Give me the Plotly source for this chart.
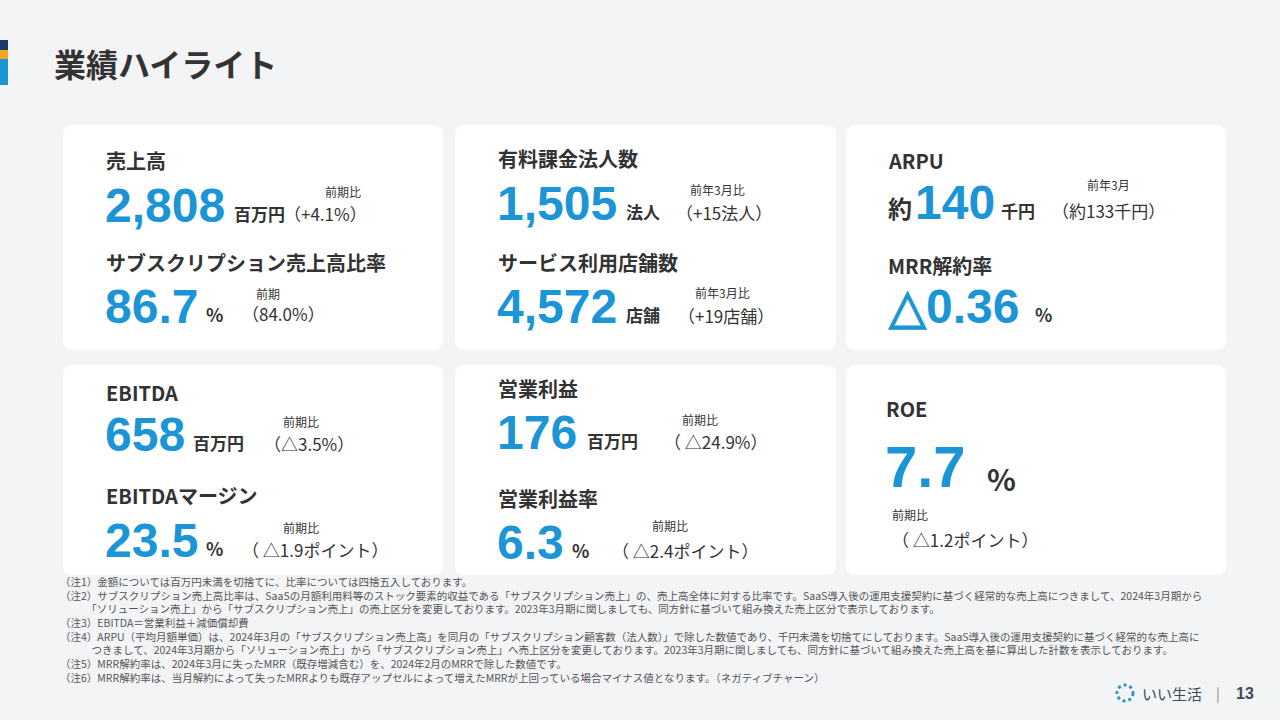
import plotly.graph_objects as go

title = "業績ハイライト"
labels = ["売上高", "サブスクリプション売上高比率", "有料課金法人数", "サービス利用店舗数", "ARPU", "MRR解約率",
          "EBITDA", "EBITDAマージン", "営業利益", "営業利益率", "ROE"]
prefixes = ["", "", "", "", "約", "△", "", "", "", "", ""]
values = ["2,808", "86.7", "1,505", "4,572", "140", "0.36", "658", "23.5", "176", "6.3", "7.7"]
units = ["百万円", "%", "法人", "店舗", "千円", "%", "百万円", "%", "百万円", "%", "%"]
cmp_labels = ["前期比", "前期", "前年3月比", "前年3月比", "前年3月", "", "前期比", "前期比", "前期比", "前期比", "前期比"]
cmp_values = ["（+4.1%）", "（84.0%）", "（+15法人）", "（+19店舗）", "（約133千円）", "", "（△3.5%）",
              "（ △1.9ポイント）", "（ △24.9%）", "（ △2.4ポイント）", "（ △1.2ポイント）"]
notes = [
    "（注1）金額については百万円未満を切捨てに、比率については四捨五入しております。",
    "（注2）サブスクリプション売上高比率は、SaaSの月額利用料等のストック要素的収益である「サブスクリプション売上」の、売上高全体に対する比率です。SaaS導入後の運用支援契約に基づく経常的な売上高につきまして、2024年3月期から",
    "　　　「ソリューション売上」から「サブスクリプション売上」の売上区分を変更しております。2023年3月期に関しましても、同方針に基づいて組み換えた売上区分で表示しております。",
    "（注3）EBITDA＝営業利益＋減価償却費",
    "（注4）ARPU（平均月額単価）は、2024年3月の「サブスクリプション売上高」を同月の「サブスクリプション顧客数（法人数）」で除した数値であり、千円未満を切捨てにしております。SaaS導入後の運用支援契約に基づく経常的な売上高に",
    "　　　つきまして、2024年3月期から「ソリューション売上」から「サブスクリプション売上」へ売上区分を変更しております。2023年3月期に関しましても、同方針に基づいて組み換えた売上高を基に算出した計数を表示しております。",
    "（注5）MRR解約率は、2024年3月に失ったMRR（既存増減含む）を、2024年2月のMRRで除した数値です。",
    "（注6）MRR解約率は、当月解約によって失ったMRRよりも既存アップセルによって増えたMRRが上回っている場合マイナス値となります。（ネガティブチャーン）",
]

# layout positions (px): label x,y, value y, value size, unit x, cmp label x,y, cmp value x,y
pos = [
    (106, 160, 205, 48, 232, 323, 192, 282, 213),
    (106, 262, 306, 48, 204, 254, 293, 240, 313),
    (498, 158, 203, 48, 624, 688, 190, 674, 212),
    (498, 262, 306, 48, 624, 693, 292, 676, 315),
    (888, 160, 202, 48, 999, 1085, 184, 1050, 210),
    (888, 265, 306, 48, 1033, 0, 0, 0, 0),
    (106, 393, 434, 48, 191, 281, 421, 262, 443),
    (106, 495, 540, 48, 204, 281, 527, 240, 549),
    (498, 388, 432, 48, 585, 680, 419, 662, 441),
    (498, 498, 542, 48, 570, 650, 525, 610, 550),
    (886, 408, 466, 58, 985, 890, 514, 890, 539),
]
cards = [(63, 125, 443, 350), (455, 125, 836, 350), (846, 125, 1226, 350),
         (63, 365, 443, 575), (455, 365, 836, 575), (846, 365, 1226, 575)]

W, H = 1280, 720
BLUE = "#1b95d6"
DARK = "#333333"
JP = "Noto Sans CJK JP"
NUM = "Liberation Sans"

def X(px): return px / W
def Y(py): return 1 - py / H

fig = go.Figure()
shapes = []
def rrect(x0, y0, x1, y1, r=10):
    p = (f"M {X(x0+r)} {Y(y0)} L {X(x1-r)} {Y(y0)} Q {X(x1)} {Y(y0)} {X(x1)} {Y(y0+r)} "
         f"L {X(x1)} {Y(y1-r)} Q {X(x1)} {Y(y1)} {X(x1-r)} {Y(y1)} L {X(x0+r)} {Y(y1)} "
         f"Q {X(x0)} {Y(y1)} {X(x0)} {Y(y1-r)} L {X(x0)} {Y(y0+r)} Q {X(x0)} {Y(y0)} {X(x0+r)} {Y(y0)} Z")
    return dict(type="path", xref="paper", yref="paper", path=p, fillcolor="white", line=dict(width=0), layer="below")
for c in cards:
    shapes.append(rrect(*c))
for (y0, y1, col) in [(40, 50, "#1f3a68"), (50, 59, "#f5a623"), (59, 85, "#1b95d6")]:
    shapes.append(dict(type="rect", xref="paper", yref="paper", x0=0, x1=X(8), y0=Y(y1), y1=Y(y0),
                       fillcolor=col, line=dict(width=0)))
shapes.append(dict(type="circle", xref="paper", yref="paper", x0=X(1117), x1=X(1133), y0=Y(701), y1=Y(685),
                   line=dict(color="#3a8fc8", width=3, dash="dot")))

ann = []
def t(x, y, text, size, color=DARK, family=JP, bold=False, anchor="left", yanchor="middle"):
    if bold:
        text = f"<b>{text}</b>"
    ann.append(dict(x=X(x), y=Y(y), xref="paper", yref="paper", text=text, showarrow=False,
                    xanchor=anchor, yanchor=yanchor, align="left",
                    font=dict(size=size, color=color, family=family)))

t(52, 63, title, 32, bold=True)
for i, lab in enumerate(labels):
    lx, ly, vy, vs, ux, cx, cy, vx, vyy = pos[i]
    t(lx - 2, ly, lab, 20, bold=True)
    vtext = values[i]
    x = lx
    if prefixes[i] == "約":
        t(x - 2, vy + 6, "約", 24, bold=True)
        x += 28
    elif prefixes[i] == "△":
        vtext = "△" + vtext
    t(x - 3, vy, vtext, vs, color=BLUE, family=NUM, bold=True)
    usize = 30 if vs > 50 else (18 if units[i] == "%" else 17)
    t(ux, vy + (12 if vs > 50 else 8), units[i], usize, bold=True)
    if cmp_labels[i]:
        t(cx, cy, cmp_labels[i], 12)
        t(vx, vyy, cmp_values[i], 17)

t(58, 572, "<br>".join(notes), 10.5, color="#555555", yanchor="top")

t(1140, 693, "いい生活", 15, color="#3a4a5a")
t(1214, 693, "|", 14, color="#888888")
t(1234, 693, "13", 16, color="#3a4a5a", family=NUM, bold=True)

fig.update_layout(width=W, height=H, margin=dict(l=0, r=0, t=0, b=0),
                  paper_bgcolor="#f3f4f6", plot_bgcolor="#f3f4f6",
                  xaxis=dict(visible=False), yaxis=dict(visible=False),
                  shapes=shapes, annotations=ann)
fig.write_html("out.html", config={"displayModeBar": False},
               post_script="document.body.style.margin='0';document.body.style.overflow='hidden';document.body.style.background='#f3f4f6';")
